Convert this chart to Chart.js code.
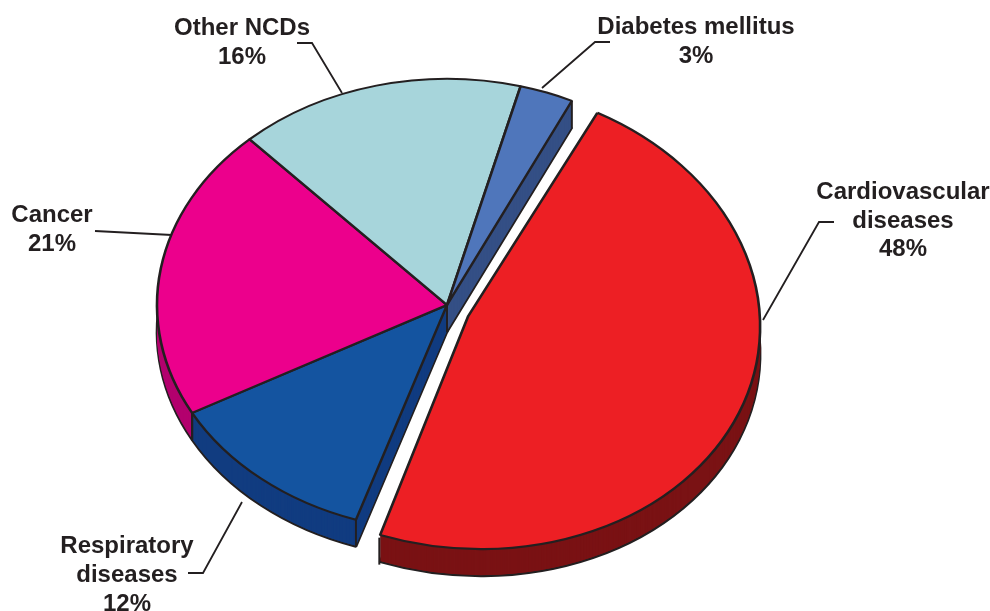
<!DOCTYPE html>
<html>
<head>
<meta charset="utf-8">
<title>NCD deaths</title>
<style>
  html, body { margin: 0; padding: 0; background: #fff; overflow: hidden; }
  canvas { display: block; }
</style>
<script src="https://cdn.jsdelivr.net/npm/chart.js@4/dist/chart.umd.min.js"></script>
</head>
<body>
<canvas id="pie" width="990" height="611"></canvas>
<script>
// values, clockwise from the exploded slice
const categories = ['Cardiovascular diseases', 'Respiratory diseases', 'Cancer', 'Other NCDs', 'Diabetes mellitus'];
const shares = [48, 12, 21, 16, 3];
const topColors = ['#ed1f24', '#1454a0', '#ec008c', '#a7d5db', '#4f76bb'];
const wallColors = ['#7a1214', '#113c80', '#b3006e', '#7fa8ad', '#344f85'];
const explode = [114, 0, 0, 0, 0];

// label text, one entry per line: [text, x, baseline]
const labelLines = [
    ['Cardiovascular', 903, 199], ['diseases', 903, 228], ['48%', 903, 256],
    ['Respiratory', 127, 553], ['diseases', 127, 582], ['12%', 127, 611],
    ['Cancer', 52, 222], ['21%', 52, 251],
    ['Other NCDs', 242, 35], ['16%', 242, 64],
    ['Diabetes mellitus', 696, 34], ['3%', 696, 63]
];
const leaders = [
    [[834, 222], [819, 222], [763, 320]],
    [[188, 573], [203, 573], [242, 502]],
    [[95, 231], [172, 235]],
    [[297, 43], [312, 43], [342, 93]],
    [[610, 42], [595, 42], [542, 88]]
];

const RADIUS = 290;
const SQUASH = 0.78;
const DEPTH = 27;
const INK = '#231f20';
// the near slice looks a little bigger and skewed in the original's perspective
const NEAR_GROW_X = 1.02;
const NEAR_GROW_Y = 1.04;
const NEAR_SHEAR = 0.035;
const NEAR_MOVE_X = -6;
const NEAR_MOVE_Y = 2;
// arc.draw() pulls the straight edges of an offset slice in by about this much
const EDGE_INSET = 0.027;

function place(ctx, arc, drop) {
    ctx.translate(0, drop);
    if (arc.options.offset > 0) {
        ctx.translate(arc.x + NEAR_MOVE_X, arc.y + NEAR_MOVE_Y);
        ctx.transform(1, NEAR_SHEAR, 0, 1, 0, 0);
        ctx.scale(NEAR_GROW_X, NEAR_GROW_Y);
        ctx.translate(-arc.x, -arc.y);
    }
    ctx.translate(arc.x, arc.y);
    ctx.scale(1, SQUASH);
    ctx.translate(-arc.x, -arc.y);
}

function drawArc(ctx, arc, drop, color, borderWidth) {
    const saved = arc.options;
    arc.options = Object.assign({}, saved, { backgroundColor: color, borderColor: INK, borderWidth: borderWidth });
    ctx.save();
    place(ctx, arc, drop);
    arc.draw(ctx);
    ctx.restore();
    arc.options = saved;
}

// drop line at the corners of a slice that face the viewer
function wallEdges(ctx, arc) {
    const exploded = arc.options.offset > 0;
    const mid = (arc.startAngle + arc.endAngle) / 2;
    const shift = arc.options.offset / 4 * (1 - Math.sin(Math.min(Math.PI, arc.circumference)));
    const ox = arc.x + Math.cos(mid) * shift;
    const oy = arc.y + Math.sin(mid) * shift;
    const angles = exploded ? [arc.endAngle - EDGE_INSET] : [arc.startAngle, arc.endAngle];
    const points = angles.map(function (a) {
        return [ox + Math.cos(a) * RADIUS, oy + Math.sin(a) * RADIUS];
    });
    if (!exploded) points.push([ox, oy]);

    ctx.save();
    place(ctx, arc, 0);
    const m = ctx.getTransform();
    ctx.restore();
    points.forEach(function (p) {
        const sx = m.a * p[0] + m.c * p[1] + m.e;
        const sy = m.b * p[0] + m.d * p[1] + m.f;
        ctx.beginPath();
        ctx.moveTo(sx, sy);
        ctx.lineTo(sx, sy + DEPTH);
        ctx.stroke();
    });
}

const pie3d = {
    id: 'pie3d',
    beforeDatasetsDraw(chart) {
        const ctx = chart.ctx;
        const arcs = chart.getDatasetMeta(0).data;
        // arc.draw() uses offset / 4 and adds it to the radius, so take it back off
        arcs.forEach(function (arc) {
            arc.outerRadius = RADIUS - arc.options.offset / 4;
        });

        // side walls: the same arcs, repeated further down
        for (let k = DEPTH; k >= 1; k--) {
            arcs.forEach(function (arc, i) {
                drawArc(ctx, arc, k, wallColors[i], k === DEPTH ? 2.6 : 0);
            });
        }

        ctx.strokeStyle = INK;
        ctx.lineWidth = 2;
        arcs.forEach(function (arc) {
            wallEdges(ctx, arc);
        });

        // top faces
        arcs.forEach(function (arc, i) {
            drawArc(ctx, arc, 0, topColors[i], 2.6);
        });
        return false;
    },
    afterDraw(chart) {
        const ctx = chart.ctx;
        ctx.strokeStyle = INK;
        ctx.lineWidth = 1.8;
        leaders.forEach(function (line) {
            ctx.beginPath();
            line.forEach(function (p, i) {
                if (i === 0) ctx.moveTo(p[0], p[1]);
                else ctx.lineTo(p[0], p[1]);
            });
            ctx.stroke();
        });

        ctx.fillStyle = INK;
        ctx.font = 'bold 24px "Liberation Sans", Arial, sans-serif';
        ctx.textAlign = 'center';
        ctx.textBaseline = 'alphabetic';
        labelLines.forEach(function (l) {
            ctx.fillText(l[0], l[1], l[2]);
        });
    }
};

new Chart(document.getElementById('pie'), {
    type: 'pie',
    data: {
        labels: categories,
        datasets: [{
            data: shares,
            backgroundColor: topColors,
            borderColor: INK,
            borderWidth: 2.6,
            offset: explode
        }]
    },
    options: {
        responsive: false,
        animation: false,
        radius: RADIUS,
        rotation: 25.5,
        layout: { padding: { left: 0, right: 96, top: 0, bottom: 1 } },
        events: [],
        plugins: { legend: { display: false }, tooltip: { enabled: false } }
    },
    plugins: [pie3d]
});
</script>
</body>
</html>
